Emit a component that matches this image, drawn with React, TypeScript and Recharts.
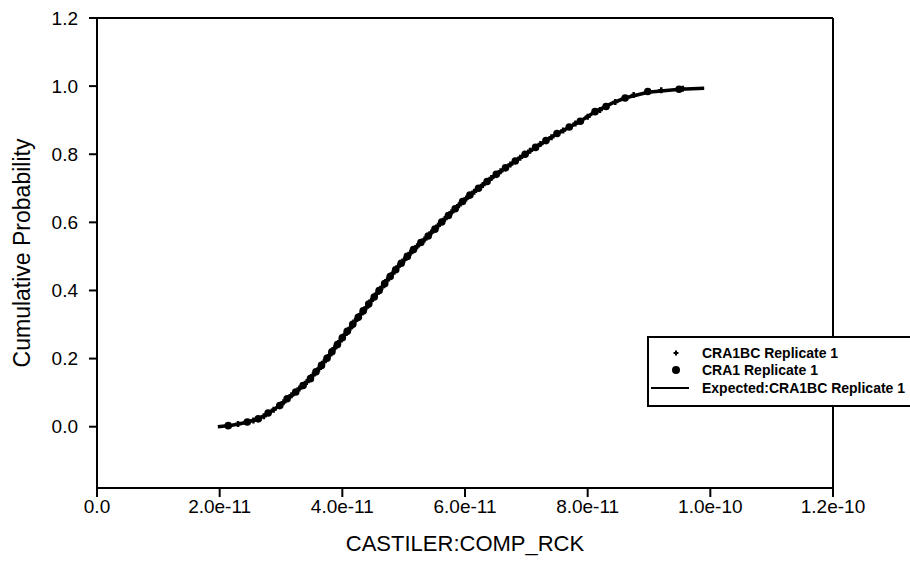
import React from "react";
import { ScatterChart, Scatter, XAxis, YAxis, ReferenceLine, Legend } from "recharts";

// ── Data (x in units of 1e-11) ─────────────────────────────────────

const X_TICKS = [0, 2e-11, 4e-11, 6e-11, 8e-11, 1e-10, 1.2e-10];
const Y_TICKS = [0, 0.2, 0.4, 0.6, 0.8, 1.0, 1.2];

const EXPECTED_X = [1.97, 2.2, 2.45, 2.65, 2.8, 3.0, 3.2, 3.47, 3.7, 3.88, 4.1, 4.34, 4.6, 4.89, 5.15, 5.43, 5.7, 5.97, 6.25, 6.52, 6.8, 7.06, 7.45, 7.88, 8.12, 8.4, 8.61, 8.98, 9.5, 9.9];
const EXPECTED_P = [0.0, 0.004, 0.013, 0.025, 0.04, 0.065, 0.095, 0.14, 0.19, 0.232, 0.285, 0.34, 0.4, 0.466, 0.518, 0.566, 0.615, 0.663, 0.705, 0.742, 0.778, 0.809, 0.855, 0.897, 0.925, 0.95, 0.965, 0.982, 0.991, 0.994];

const CRA1_X = [2.14, 2.45, 2.63, 2.79, 2.98, 3.1, 3.24, 3.36, 3.48, 3.57, 3.66, 3.75, 3.83, 3.92, 4.0, 4.08, 4.17, 4.26, 4.34, 4.43, 4.52, 4.6, 4.69, 4.78, 4.87, 4.96, 5.06, 5.16, 5.28, 5.4, 5.51, 5.62, 5.73, 5.84, 5.96, 6.08, 6.22, 6.36, 6.51, 6.66, 6.82, 6.98, 7.15, 7.32, 7.5, 7.7, 7.88, 8.12, 8.3, 8.61, 8.98, 9.49];
const CRA1_P = [0.003, 0.014, 0.023, 0.04, 0.062, 0.082, 0.102, 0.121, 0.141, 0.161, 0.18, 0.201, 0.22, 0.241, 0.261, 0.28, 0.301, 0.321, 0.34, 0.36, 0.381, 0.4, 0.42, 0.441, 0.461, 0.48, 0.5, 0.52, 0.541, 0.56, 0.58, 0.601, 0.62, 0.64, 0.661, 0.68, 0.7, 0.72, 0.741, 0.76, 0.78, 0.8, 0.82, 0.84, 0.861, 0.88, 0.897, 0.925, 0.94, 0.965, 0.984, 0.991];

const CRA1BC_X = [2.3, 2.55, 2.72, 2.88, 3.04, 3.17, 3.3, 3.42, 3.52, 3.62, 3.7, 3.79, 3.87, 3.96, 4.04, 4.13, 4.21, 4.3, 4.39, 4.47, 4.56, 4.65, 4.73, 4.82, 4.91, 5.01, 5.11, 5.22, 5.34, 5.45, 5.56, 5.67, 5.78, 5.9, 6.02, 6.15, 6.29, 6.43, 6.58, 6.74, 6.9, 7.06, 7.23, 7.41, 7.6, 7.8, 8.0, 8.2, 8.45, 8.75, 9.2, 9.55];
const CRA1BC_P = [0.008, 0.018, 0.031, 0.05, 0.072, 0.092, 0.112, 0.131, 0.151, 0.17, 0.19, 0.21, 0.23, 0.251, 0.27, 0.29, 0.311, 0.33, 0.35, 0.37, 0.39, 0.41, 0.43, 0.45, 0.47, 0.49, 0.51, 0.53, 0.55, 0.57, 0.59, 0.61, 0.63, 0.65, 0.67, 0.69, 0.71, 0.73, 0.75, 0.77, 0.79, 0.81, 0.83, 0.85, 0.87, 0.89, 0.91, 0.93, 0.953, 0.974, 0.988, 0.992];

const toRows = (xs: number[], ps: number[]) => xs.map((x, i) => ({ x: x * 1e-11, p: ps[i] }));

const expected = toRows(EXPECTED_X, EXPECTED_P);
const cra1 = toRows(CRA1_X, CRA1_P);
const cra1bc = toRows(CRA1BC_X, CRA1BC_P);

// ── Styling ─────────────────────────────────────────────────────────

const FONT = "'Liberation Sans', Arial, sans-serif";
const AXIS = { stroke: "#000", strokeWidth: 2 };
const TICK = { fill: "#000", fontSize: 19, fontFamily: FONT };

const fmtX = (v: number) => (v === 0 ? "0.0" : v.toExponential(1));
const fmtY = (v: number) => v.toFixed(1);

const Dot = (props: any) => <circle cx={props.cx} cy={props.cy} r={3.8} fill="#000" />;
const Plus = (props: any) => (
  <path
    d={`M${props.cx - 3},${props.cy}h6M${props.cx},${props.cy - 3}v6`}
    stroke="#000"
    strokeWidth={2.5}
  />
);
const NoShape = () => <g />;

function LegendBox() {
  const row = { display: "flex", alignItems: "center", height: 17.5 } as const;
  const txt = { fontFamily: FONT, fontWeight: 700, fontSize: 14, color: "#000", marginLeft: 13, whiteSpace: "nowrap" } as const;
  return (
    <div style={{ border: "2px solid #000", background: "#fff", padding: "6px 0", boxSizing: "border-box", height: 71 }}>
      <div style={row}>
        <svg width={40} height={18}>
          <path d="M24.5,9h5M27,6.5v5" stroke="#000" strokeWidth={2} />
        </svg>
        <span style={txt}>CRA1BC Replicate 1</span>
      </div>
      <div style={row}>
        <svg width={40} height={18}>
          <circle cx={27} cy={9} r={4} fill="#000" />
        </svg>
        <span style={txt}>CRA1 Replicate 1</span>
      </div>
      <div style={row}>
        <svg width={40} height={18}>
          <line x1={2} x2={40} y1={9} y2={9} stroke="#000" strokeWidth={2} />
        </svg>
        <span style={txt}>Expected:CRA1BC Replicate 1</span>
      </div>
    </div>
  );
}

export default function App() {
  return (
    <div style={{ position: "absolute", left: 0, top: 0, width: 910, height: 575, overflow: "hidden", background: "#fff" }}>
      <ScatterChart width={910} height={575} margin={{ top: 18, right: 77, left: 0, bottom: 0 }}>
        <XAxis
          type="number"
          dataKey="x"
          domain={[0, 1.2e-10]}
          ticks={X_TICKS}
          tickFormatter={fmtX}
          axisLine={AXIS}
          tickLine={AXIS}
          tickSize={9}
          tickMargin={3}
          tick={TICK}
          height={87}
          allowDataOverflow
          label={{
            value: "CASTILER:COMP_RCK",
            position: "insideBottom",
            offset: 24,
            style: { fill: "#000", fontSize: 22, fontFamily: FONT },
          }}
        />
        <YAxis
          type="number"
          dataKey="p"
          domain={[-0.18, 1.2]}
          ticks={Y_TICKS}
          tickFormatter={fmtY}
          axisLine={AXIS}
          tickLine={AXIS}
          tickSize={8}
          tickMargin={11}
          tick={TICK}
          width={97}
          allowDataOverflow
          label={{
            value: "Cumulative Probability",
            angle: -90,
            position: "insideLeft",
            offset: 22,
            style: { fill: "#000", fontSize: 23, fontFamily: FONT, textAnchor: "middle" },
          }}
        />
        <ReferenceLine y={1.2} stroke="#000" strokeWidth={2} />
        <ReferenceLine x={1.2e-10} stroke="#000" strokeWidth={2} />
        <Scatter
          name="Expected:CRA1BC Replicate 1"
          data={expected}
          line={{ stroke: "#000", strokeWidth: 3.5 }}
          lineType="joint"
          shape={NoShape}
          isAnimationActive={false}
        />
        <Scatter name="CRA1 Replicate 1" data={cra1} shape={Dot} isAnimationActive={false} />
        <Scatter name="CRA1BC Replicate 1" data={cra1bc} shape={Plus} isAnimationActive={false} />
        <Legend
          layout="horizontal"
          verticalAlign="middle"
          align="center"
          content={() => <LegendBox />}
          wrapperStyle={{ left: 647, top: 336, width: 290, height: 71 }}
        />
      </ScatterChart>
    </div>
  );
}
